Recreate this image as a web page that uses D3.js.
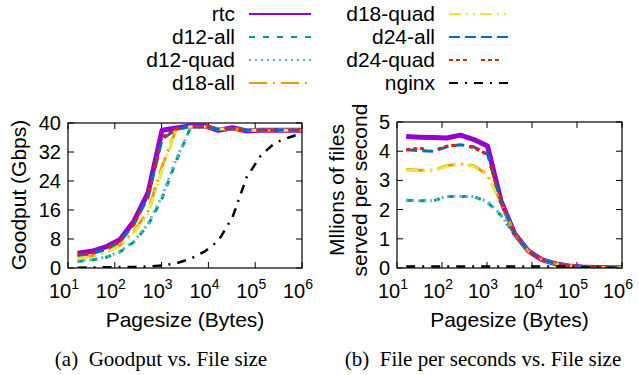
<!DOCTYPE html>
<html>
<head>
<meta charset="utf-8">
<script src="https://cdn.jsdelivr.net/npm/d3@7"></script>
<style>
  body { margin: 0; background: #fff; }
  text { font-family: "Liberation Sans", Arial, sans-serif; fill: #000; }
</style>
</head>
<body>
<svg id="chart" width="639" height="375"></svg>
<script>
// page sizes in bytes (2^4 .. 2^20)
var sizes = [16, 32, 64, 128, 256, 512, 1024, 2048, 4096, 8192, 16384, 32768, 65536, 131072, 262144, 524288, 1048576];

var names = ['rtc', 'd12-all', 'd12-quad', 'd18-all', 'd18-quad', 'd24-all', 'd24-quad', 'nginx'];

// goodput, Gbps
var gpRtc     = [4.1, 4.6, 5.8, 7.8, 12.9, 20.7, 38.0, 38.6, 39.2, 39.2, 38.0, 38.7, 37.8, 38.0, 38.0, 38.0, 38.0];
var gpD12all  = [1.8, 2.2, 2.9, 4.4, 7.2, 11.8, 19.2, 29.5, 38.5, 39.0, 38.3, 38.5, 38.0, 38.0, 38.0, 38.0, 38.0];
var gpD12quad = [1.9, 2.3, 3.0, 4.5, 7.4, 12.1, 19.8, 30.0, 38.5, 39.0, 38.3, 38.5, 38.0, 38.0, 38.0, 38.0, 38.0];
var gpD18all  = [2.8, 3.3, 4.4, 6.2, 10.2, 15.6, 28.0, 38.3, 39.0, 39.0, 38.3, 38.5, 38.0, 38.0, 38.0, 38.0, 38.0];
var gpD18quad = [2.7, 3.2, 4.3, 6.0, 9.8, 14.8, 27.0, 38.0, 39.0, 39.0, 38.3, 38.5, 38.0, 38.0, 38.0, 38.0, 38.0];
var gpD24all  = [3.5, 4.0, 5.1, 7.2, 12.0, 19.5, 35.5, 38.3, 39.0, 39.0, 38.3, 38.5, 38.0, 38.0, 38.0, 38.0, 38.0];
var gpD24quad = [3.6, 4.1, 5.3, 7.3, 12.2, 19.8, 36.0, 38.4, 39.0, 39.0, 38.4, 38.5, 38.0, 38.0, 38.0, 38.0, 38.0];
var gpNginx   = [0.1, 0.15, 0.2, 0.25, 0.3, 0.4, 0.7, 1.3, 2.5, 4.5, 7.5, 14, 25, 31, 34.5, 36, 37.3];

// millions of files per second
var fpRtc     = [4.50, 4.48, 4.47, 4.45, 4.55, 4.40, 4.18, 2.30, 1.18, 0.59, 0.29, 0.15, 0.072, 0.036, 0.018, 0.009, 0.0045];
var fpD12all  = [2.32, 2.30, 2.30, 2.45, 2.45, 2.45, 2.25, 1.80, 1.15, 0.58, 0.29, 0.15, 0.072, 0.036, 0.018, 0.009, 0.0045];
var fpD12quad = [2.32, 2.30, 2.30, 2.46, 2.46, 2.45, 2.28, 1.82, 1.15, 0.58, 0.29, 0.15, 0.072, 0.036, 0.018, 0.009, 0.0045];
var fpD18all  = [3.37, 3.35, 3.35, 3.50, 3.57, 3.50, 3.20, 2.25, 1.17, 0.58, 0.29, 0.15, 0.072, 0.036, 0.018, 0.009, 0.0045];
var fpD18quad = [3.35, 3.33, 3.33, 3.48, 3.55, 3.48, 3.15, 2.22, 1.17, 0.58, 0.29, 0.15, 0.072, 0.036, 0.018, 0.009, 0.0045];
var fpD24all  = [4.05, 4.02, 4.00, 4.15, 4.22, 4.15, 3.90, 2.28, 1.17, 0.58, 0.29, 0.15, 0.072, 0.036, 0.018, 0.009, 0.0045];
var fpD24quad = [4.05, 4.10, 4.02, 4.17, 4.22, 4.12, 3.88, 2.28, 1.17, 0.58, 0.29, 0.15, 0.072, 0.036, 0.018, 0.009, 0.0045];
var fpNginx   = [0.05, 0.05, 0.05, 0.05, 0.05, 0.05, 0.05, 0.05, 0.05, 0.05, 0.05, 0.05, 0.048, 0.03, 0.016, 0.009, 0.0045];

var xTicks = [1e1, 1e2, 1e3, 1e4, 1e5, 1e6];
var gpTicks = [0, 8, 16, 24, 32, 40];
var fpTicks = [0, 1, 2, 3, 4, 5];

var colors = ['#9400d3', '#009e73', '#56b4e9', '#e69f00', '#f0e442', '#0072b2', '#e51e10', '#000000'];
var dashes = [null, '6,8', '2,4', '18,6,2,6', '12,5,2,5,2,5', '11,5', '4,3,4,3,4,14', '9,7,2,7'];
var widths = [5, 3, 3, 3, 3, 3, 3, 2.5];

var svg = d3.select('#chart');

function panel(opt) {
  var x = d3.scaleLog().domain([10, 1e6]).range([opt.left, opt.right]);
  var y = d3.scaleLinear().domain([0, opt.ymax]).range([opt.bottom, opt.top]);
  var g = svg.append('g');

  g.append('clipPath').attr('id', opt.id)
    .append('rect')
    .attr('x', opt.left).attr('y', opt.top - 4)
    .attr('width', opt.right - opt.left).attr('height', opt.bottom - opt.top + 4);

  // ticks pointing in, mirrored like gnuplot
  xTicks.forEach(function(t) {
    g.append('line').attr('x1', x(t)).attr('x2', x(t)).attr('y1', opt.bottom).attr('y2', opt.bottom - 6).attr('stroke', '#000');
    g.append('line').attr('x1', x(t)).attr('x2', x(t)).attr('y1', opt.top).attr('y2', opt.top + 6).attr('stroke', '#000');
    var lab = g.append('text').attr('x', x(t) - 4).attr('y', 298).attr('text-anchor', 'middle').style('font-size', '20px');
    lab.append('tspan').text('10');
    lab.append('tspan').attr('dy', -9).style('font-size', '14px').text(Math.round(Math.log10(t)));
  });
  opt.yticks.forEach(function(t) {
    g.append('line').attr('x1', opt.left).attr('x2', opt.left + 6).attr('y1', y(t)).attr('y2', y(t)).attr('stroke', '#000');
    g.append('line').attr('x1', opt.right).attr('x2', opt.right - 6).attr('y1', y(t)).attr('y2', y(t)).attr('stroke', '#000');
    g.append('text').attr('x', opt.left - 7).attr('y', y(t) + 7).attr('text-anchor', 'end')
      .style('font-size', '20px').text(t);
  });

  var line = d3.line()
    .x(function(d) { return x(d[0]); })
    .y(function(d) { return y(d[1]); });

  var lines = g.append('g').attr('clip-path', 'url(#' + opt.id + ')');
  // draw rtc first, then the rest on top, nginx last
  opt.series.forEach(function(s, i) {
    lines.append('path')
      .datum(d3.zip(sizes, s))
      .attr('d', line)
      .attr('fill', 'none')
      .attr('stroke', colors[i])
      .attr('stroke-width', widths[i])
      .attr('stroke-dasharray', dashes[i])
      .attr('stroke-linejoin', 'round');
  });

  g.append('rect')
    .attr('x', opt.left).attr('y', opt.top)
    .attr('width', opt.right - opt.left).attr('height', opt.bottom - opt.top)
    .attr('fill', 'none').attr('stroke', '#000').attr('stroke-width', 1.2);

  g.append('text').attr('x', (opt.left + opt.right) / 2).attr('y', 327)
    .attr('text-anchor', 'middle').style('font-size', '21px').text('Pagesize (Bytes)');

  g.append('text').attr('x', opt.capx).attr('y', 366)
    .attr('text-anchor', 'middle')
    .style('font-family', '"Liberation Serif", "Times New Roman", serif')
    .style('font-size', '21px')
    .attr('xml:space', 'preserve')
    .text(opt.caption);
}

panel({
  id: 'clipA', left: 68, right: 302, top: 123, bottom: 268, ymax: 40, yticks: gpTicks,
  series: [gpRtc, gpD12all, gpD12quad, gpD18all, gpD18quad, gpD24all, gpD24quad, gpNginx],
  capx: 161, caption: '(a)  Goodput vs. File size'
});
panel({
  id: 'clipB', left: 397, right: 622, top: 122, bottom: 268, ymax: 5, yticks: fpTicks,
  series: [fpRtc, fpD12all, fpD12quad, fpD18all, fpD18quad, fpD24all, fpD24quad, fpNginx],
  capx: 483, caption: '(b)  File per seconds vs. File size'
});

// y axis titles
svg.append('text').attr('transform', 'translate(26,195) rotate(-90)')
  .attr('text-anchor', 'middle').style('font-size', '21px').text('Goodput (Gbps)');
svg.append('text').attr('transform', 'translate(344,190) rotate(-90)')
  .attr('text-anchor', 'middle').style('font-size', '21px').text('Mllions of files');
svg.append('text').attr('transform', 'translate(367,190) rotate(-90)')
  .attr('text-anchor', 'middle').style('font-size', '21px').text('served per second');

// legend, two columns of four
var legend = svg.append('g');
names.forEach(function(n, i) {
  var col = Math.floor(i / 4), row = i % 4;
  var tx = col === 0 ? 235 : 435;
  var ly = 14 + row * 23;
  legend.append('text').attr('x', tx).attr('y', ly + 7).attr('text-anchor', 'end')
    .style('font-size', '21px').text(n);
  legend.append('line')
    .attr('x1', tx + 14).attr('x2', tx + 76).attr('y1', ly).attr('y2', ly)
    .attr('stroke', colors[i]).attr('stroke-width', 2)
    .attr('stroke-dasharray', dashes[i]);
});
</script>
</body>
</html>
